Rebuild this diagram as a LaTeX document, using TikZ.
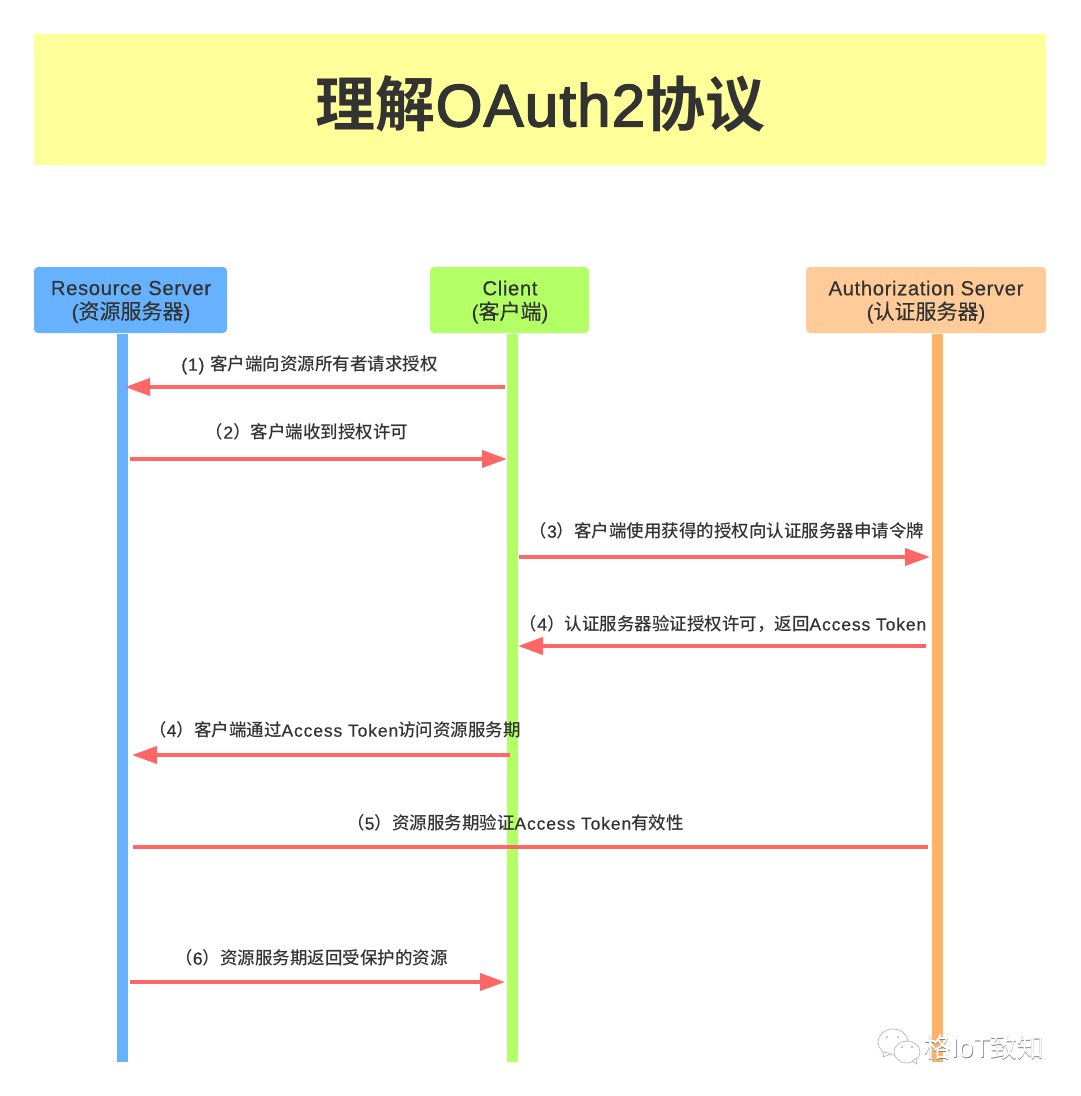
\documentclass[tikz,border=0pt]{standalone}
\usepackage{fontspec}
\setmainfont{Liberation Sans}[LetterSpace=3,FakeBold=0.4]
\newfontfamily\lat{Liberation Sans}[LetterSpace=5,FakeBold=0.6]
\newfontfamily\titlelat{Liberation Sans}[LetterSpace=2,FakeBold=2.5]
\newfontfamily\cjk{Noto Sans CJK SC Medium}
\newfontfamily\cjkb{Noto Sans CJK SC Bold}
\newfontfamily\cjkp{Noto Sans CJK SC}[FakeBold=0.3]
\newfontfamily\wmfont{Noto Sans CJK SC}
\newfontfamily\wmlat{Liberation Sans}
\usetikzlibrary{arrows.meta}
\definecolor{txt}{HTML}{333333}
\definecolor{band}{HTML}{FFFF99}
\definecolor{rs}{HTML}{66B2FF}
\definecolor{cl}{HTML}{B3FF66}
\definecolor{as}{HTML}{FFCC99}
\definecolor{asbar}{HTML}{FFB366}
\definecolor{arr}{HTML}{FF6666}
\tikzset{
  x=1pt,y=-1pt,
  head/.style={rounded corners=4pt,inner sep=0pt,minimum height=66pt},
  headtext/.style={inner sep=0pt,text=txt,align=center,font=\fontsize{20.3}{24}\selectfont},
  life/.style={inner sep=0pt,minimum width=11pt,minimum height=728pt},
  msg/.style={draw=arr,line width=4pt,-{Triangle[length=25pt,width=17pt,fill=arr]}},
  plain/.style={draw=arr,line width=4pt},
  lab/.style={inner sep=0pt,text=txt,font=\fontsize{17.5}{20}\selectfont\lat},
  bub/.style={draw=black!25,fill=white,line width=.8pt},
  wmtext/.style={inner sep=0pt,font=\fontsize{27}{30}\selectfont},
}
\begin{document}
\begin{tikzpicture}
\useasboundingbox (0,0) rectangle (1080,1096);
\node[fill=band,minimum width=1012pt,minimum height=131pt,inner sep=0pt] (title) at (540,99.5) {};
\node[inner sep=0pt,text=txt,font=\fontsize{60}{70}\selectfont] (titletext) at (540.5,104) {{\cjkb 理解}{\titlelat OAuth2}{\cjkb 协议}};

\node[life,fill=rs] (lrs) at (122.5,698) {};
\node[life,fill=cl] (lcl) at (512,698) {};
\node[life,fill=asbar] (las) at (937.5,698) {};

\node[head,fill=rs,minimum width=193pt] (hrs) at (130.5,300) {};
\node[head,fill=cl,minimum width=159pt] (hcl) at (509.5,300) {};
\node[head,fill=as,minimum width=240pt] (has) at (926,300) {};
\node[headtext] (trs) at (131,302) {Resource Server\\({\fontsize{21}{24}\selectfont\cjkp 资源服务器})};
\node[headtext] (tcl) at (510,302) {Client\\({\fontsize{21}{24}\selectfont\cjkp 客户端})};
\node[headtext] (tas) at (926,302) {Authorization Server\\({\fontsize{21}{24}\selectfont\cjkp 认证服务器})};

\coordinate (a1s) at (505,387); \coordinate (a1e) at (125,387);
\coordinate (a2s) at (130,459); \coordinate (a2e) at (507,459);
\coordinate (a3s) at (519,557); \coordinate (a3e) at (930,557);
\coordinate (a4s) at (926,646); \coordinate (a4e) at (518,646);
\coordinate (a5s) at (510,755); \coordinate (a5e) at (132,755);
\coordinate (a6s) at (928,847); \coordinate (a6e) at (133,847);
\coordinate (a7s) at (130,982); \coordinate (a7e) at (505,982);

\draw[msg] (a1s) -- (a1e);
\draw[msg] (a2s) -- (a2e);
\draw[msg] (a3s) -- (a3e);
\draw[msg] (a4s) -- (a4e);
\draw[msg] (a5s) -- (a5e);
\draw[plain] (a6s) -- (a6e);
\draw[msg] (a7s) -- (a7e);

\node[lab] (l1) at (309.5,365) {(1) {\cjk 客户端向资源所有者请求授权}};
\node[lab] (l2) at (307,432) {{\cjk （}2{\cjk ）客户端收到授权许可}};
\node[lab] (l3) at (727,531) {{\cjk （}3{\cjk ）客户端使用获得的授权向认证服务器申请令牌}};
\node[lab] (l4) at (723,624) {{\cjk （}4{\cjk ）认证服务器验证授权许可，返回}Access Token};
\node[lab] (l5) at (335,730) {{\cjk （}4{\cjk ）客户端通过}Access Token{\cjk 访问资源服务期}};
\node[lab] (l6) at (515.5,823) {{\cjk （}5{\cjk ）资源服务期验证}Access Token{\cjk 有效性}};
\node[lab] (l7) at (311.5,958) {{\cjk （}6{\cjk ）资源服务期返回受保护的资源}};

% watermark
\begin{scope}
\path[bub] (893,1042) ellipse [x radius=15,y radius=13];
\path[bub] (884,1052) -- (883,1057) -- (891,1054) -- cycle;
\path[bub] (907,1052) ellipse [x radius=13,y radius=11];
\path[bub] (912,1061) -- (917,1064) -- (916,1058) -- cycle;
\fill[black!35] (887,1037) circle (1) (898,1037) circle (1) (902,1047) circle (1) (912,1047) circle (1);
\end{scope}
\node[wmtext,text=black!50] (wms) at (984.8,1048.2) {{\wmfont 格}{\wmlat IoT}{\wmfont 致知}};
\node[wmtext,text=white] (wm) at (984,1047.4) {{\wmfont 格}{\wmlat IoT}{\wmfont 致知}};
\end{tikzpicture}
\end{document}
